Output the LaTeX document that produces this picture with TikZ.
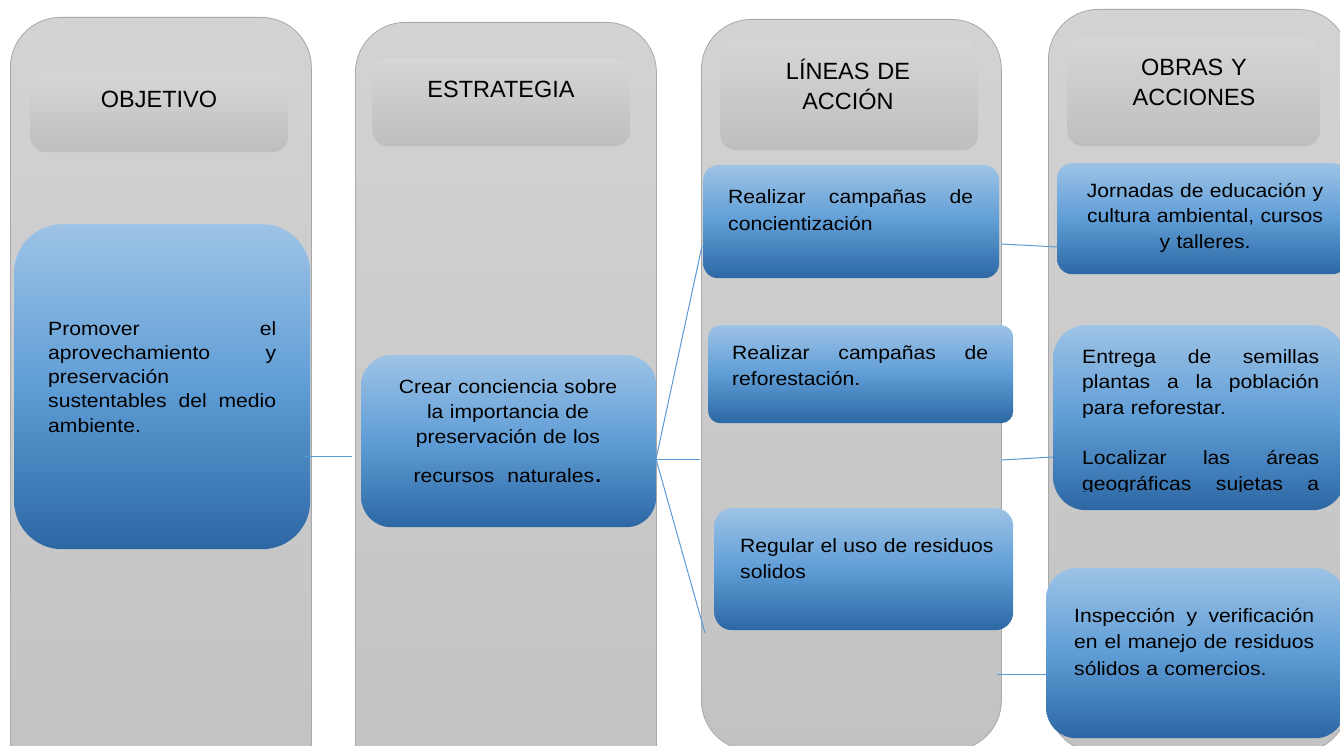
\documentclass[tikz,border=0pt]{standalone}
\usepackage{fontspec}
\setmainfont{Liberation Sans}
\newfontfamily\bodyf{Liberation Sans}[FakeStretch=1.1]
\definecolor{colTop}{HTML}{D3D3D3}
\definecolor{colBot}{HTML}{C2C2C2}
\definecolor{colEdge}{HTML}{A8A8A8}
\definecolor{hdTop}{HTML}{D6D6D6}
\definecolor{hdBot}{HTML}{BEBEBE}
\definecolor{blTop}{HTML}{9DC3E6}
\definecolor{blMid}{HTML}{5F9DD6}
\definecolor{blBot}{HTML}{2C67A3}
\definecolor{lineBlue}{HTML}{5B9BD5}
\tikzset{
  colbox/.style={draw=colEdge, line width=0.8pt, top color=colTop, bottom color=colBot,
    rounded corners=50pt, anchor=north west, inner sep=0pt},
  hdbox/.style={draw=none, top color=hdTop, bottom color=hdBot, rounded corners=16pt,
    anchor=north west, inner sep=0pt},
  bluebox/.style={draw=none, top color=blTop, bottom color=blBot, middle color=blMid,
    anchor=north west, inner sep=0pt},
  conn/.style={draw=lineBlue, line width=1pt},
  hdtext/.style={font=\fontsize{23.5}{30}\selectfont, text width=260pt, align=center,
    inner sep=0pt, anchor=base},
  bodytext/.style={inner sep=0pt, anchor=base west, align=left},
  ctext/.style={inner sep=0pt, anchor=base, align=center},
}
\begin{document}
\begin{tikzpicture}[x=1pt,y=-1pt]
\useasboundingbox (0,0) rectangle (1340,746);
\clip (0,0) rectangle (1340,746);
% columns
\node[colbox, minimum width=301pt, minimum height=780pt] (c1) at (10,17) {};
\node[colbox, minimum width=301pt, minimum height=780pt] (c2) at (355,22) {};
\node[colbox, minimum width=300pt, minimum height=731pt] (c3) at (701,19) {};
\node[colbox, minimum width=300pt, minimum height=743pt] (c4) at (1048,9) {};
% headers
\node[hdbox, minimum width=258pt, minimum height=79pt] (h1) at (30,73) {};
\node[hdbox, minimum width=258pt, minimum height=88pt] (h2) at (372,58) {};
\node[hdbox, minimum width=258pt, minimum height=110pt] (h3) at (720,40) {};
\node[hdbox, minimum width=253pt, minimum height=108pt] (h4) at (1067,38) {};
\node[hdtext] (ht1) at (159,108) {OBJETIVO};
\node[hdtext] (ht2) at (501,98) {ESTRATEGIA};
\node[hdtext] (ht3) at (848,80) {LÍNEAS DE\\ACCIÓN};
\node[hdtext] (ht4) at (1194,76) {OBRAS Y\\ACCIONES};
% blue boxes
\node[bluebox, rounded corners=48pt, minimum width=296pt, minimum height=325pt] (b1) at (14,224) {};
\node[bluebox, rounded corners=30pt, minimum width=295pt, minimum height=172pt] (b2) at (361,355) {};
\node[bluebox, rounded corners=15pt, minimum width=296pt, minimum height=113pt] (l1) at (703,165) {};
\node[bluebox, rounded corners=12pt, minimum width=305pt, minimum height=98pt] (l2) at (708,325) {};
\node[bluebox, rounded corners=18pt, minimum width=299pt, minimum height=122pt] (l3) at (714,508) {};
\node[bluebox, rounded corners=15pt, minimum width=290pt, minimum height=111pt] (o1) at (1057,163) {};
\node[bluebox, rounded corners=33pt, minimum width=292pt, minimum height=185pt] (o2) at (1053,325) {};
\node[bluebox, rounded corners=30pt, minimum width=299pt, minimum height=170pt] (o3) at (1046,568) {};
% connector ends
\coordinate (k1) at (304,456);
\coordinate (k2) at (352,456);
\coordinate (s) at (656,459);
\coordinate (e1) at (702,246);
\coordinate (e2) at (700,459);
\coordinate (e3) at (705,633);
\coordinate (f1a) at (1001,244);
\coordinate (f1b) at (1058,247);
\coordinate (f2a) at (1001,460);
\coordinate (f2b) at (1053,457);
\coordinate (f3a) at (997,674);
\coordinate (f3b) at (1046,674);
\draw[conn] (k1) -- (k2);
\draw[conn] (s) -- (e1);
\draw[conn] (s) -- (e2);
\draw[conn] (s) -- (e3);
\draw[conn] (f1a) -- (f1b);
\draw[conn] (f2a) -- (f2b);
\draw[conn] (f3a) -- (f3b);
% texts
\node[bodytext, text width=228pt, font=\bodyf\fontsize{19.2}{24.3}\selectfont] (t1) at (48,335)
  {Promover\hfill el\\aprovechamiento\hfill y\\preservación\\sustentables\hfill del\hfill medio\\ambiente.};
\node[ctext, text width=290pt, font=\bodyf\fontsize{19.2}{25}\selectfont] (t2) at (508,393)
  {Crear conciencia sobre\\la importancia de\\preservación de los\\[14pt]recursos\ \ naturales{\fontsize{27}{27}\selectfont .}};
\node[bodytext, text width=245pt, font=\bodyf\fontsize{19.2}{27}\selectfont] (t3) at (728,204)
  {Realizar\hfill campañas\hfill de\\concientización};
\node[bodytext, text width=256pt, font=\bodyf\fontsize{19.2}{26}\selectfont] (t4) at (732,359)
  {Realizar\hfill campañas\hfill de\\reforestación.};
\node[bodytext, text width=262pt, font=\bodyf\fontsize{19.2}{26}\selectfont] (t5) at (740,552)
  {Regular el uso de residuos\\solidos};
\node[ctext, text width=270pt, font=\bodyf\fontsize{19.2}{25.5}\selectfont] (t6) at (1205,197)
  {Jornadas de educación y\\cultura ambiental, cursos\\y talleres.};
\begin{scope}
\clip (1040,300) rectangle (1340,491);
\node[bodytext, text width=237pt, font=\bodyf\fontsize{19.2}{25.5}\selectfont] (t7) at (1082,363)
  {Entrega\hfill de\hfill semillas\\plantas\hfill a\hfill la\hfill población\\para reforestar.\\[25pt]Localizar\hfill las\hfill áreas\\geográficas\hfill sujetas\hfill a};
\end{scope}
\node[bodytext, text width=240pt, font=\bodyf\fontsize{19.2}{26.5}\selectfont] (t8) at (1074,622)
  {Inspección\hfill y\hfill verificación\\en\hfill el\hfill manejo\hfill de\hfill residuos\\sólidos a comercios.};
\end{tikzpicture}
\end{document}
